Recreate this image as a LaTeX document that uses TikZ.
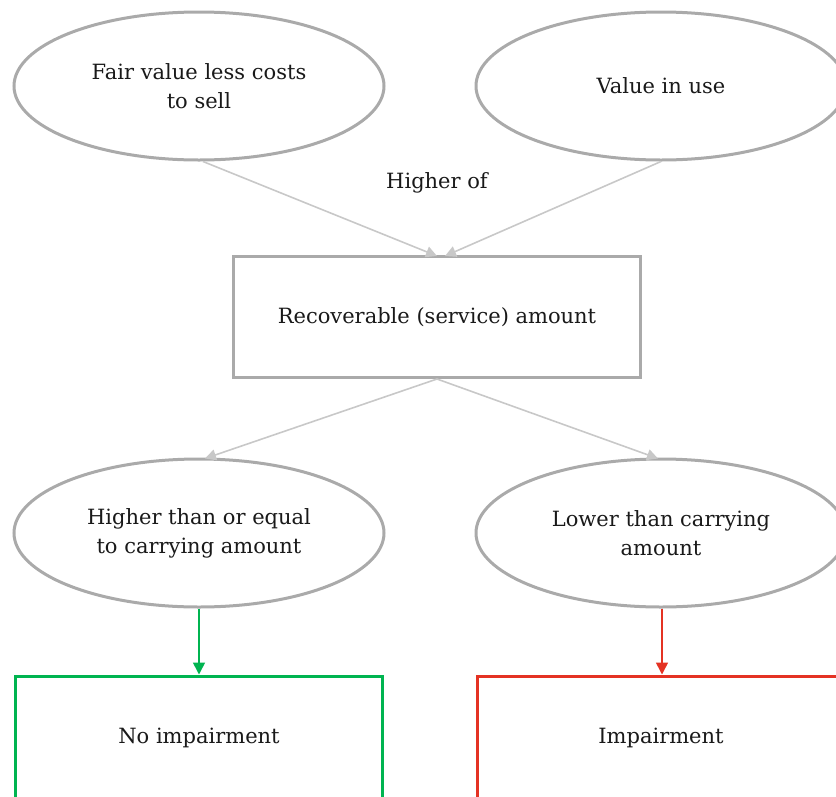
\documentclass[tikz,border=0pt]{standalone}
\usepackage{fontspec}
\setmainfont{DejaVu Serif}
\usetikzlibrary{arrows.meta,shapes.geometric}
\definecolor{shapegray}{RGB}{170,170,170}
\definecolor{linegray}{RGB}{200,200,200}
\definecolor{okgreen}{RGB}{0,180,80}
\definecolor{badred}{RGB}{228,50,35}
\begin{document}
\begin{tikzpicture}[x=1pt,y=-1pt,
  txt/.style={font=\fontsize{21}{29}\selectfont, align=center, text=black!90},
  oval/.style={ellipse, draw=shapegray, line width=3pt, minimum width=370pt, minimum height=148pt, inner sep=0pt, txt},
  box/.style={rectangle, draw=shapegray, line width=3pt, minimum width=407pt, minimum height=121pt, inner sep=0pt, txt},
  resbox/.style={rectangle, line width=3pt, minimum width=367pt, minimum height=124pt, inner sep=0pt, txt},
  conn/.style={draw=linegray, line width=1.6pt, -{Triangle[width=11pt,length=11pt]}},
  greenconn/.style={draw=okgreen, line width=1.6pt, -{Triangle[width=12pt,length=12pt]}},
  redconn/.style={draw=badred, line width=1.6pt, -{Triangle[width=12pt,length=12pt]}}]
\useasboundingbox (0,0) rectangle (836,796);
\clip (0,0) rectangle (836,796);
\node[oval] (fv) at (199,86) {Fair value less costs\\to sell};
\node[oval] (viu) at (661,86) {Value in use};
\node[txt] (hi) at (437,183) {Higher of};
\node[box] (rec) at (437,317) {Recoverable (service) amount};
\node[oval] (ge) at (199,533) {Higher than or equal\\to carrying amount};
\node[oval] (lt) at (661,533) {Lower than carrying\\amount};
\node[resbox, draw=okgreen] (no) at (199,738) {No impairment};
\node[resbox, draw=badred] (imp) at (661,738) {Impairment};
\coordinate (recin1) at (437,256);
\coordinate (recin2) at (445,256);
\draw[conn] ([xshift=4pt]fv.south) -- (recin1);
\draw[conn] (viu.south) -- (recin2);
\coordinate (recout) at (437,379);
\draw[conn] (recout) -- ([xshift=6pt,yshift=-1pt]ge.north);
\draw[conn] (recout) -- ([xshift=-3pt,yshift=-1pt]lt.north);
\draw[greenconn] (ge.south) -- (no.north);
\draw[redconn] ([xshift=1pt]lt.south) -- ([xshift=1pt]imp.north);
\end{tikzpicture}
\end{document}
